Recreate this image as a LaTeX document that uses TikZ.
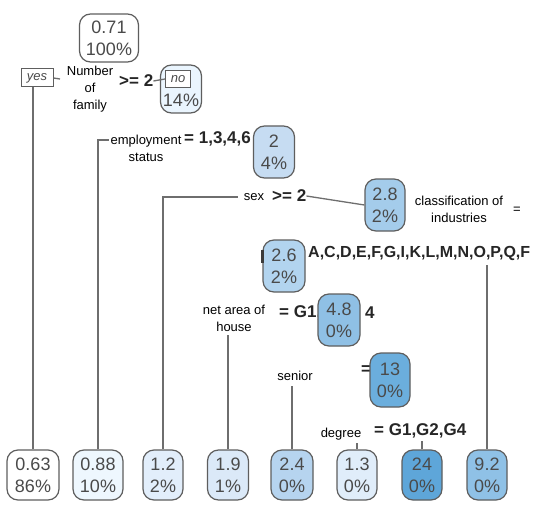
\documentclass[tikz,border=0pt]{standalone}
\usepackage{fontspec}
\setmainfont{Liberation Sans}
\definecolor{boxgray}{HTML}{5E5E5E}
\definecolor{numgray}{HTML}{4A4A4A}
\definecolor{edgegray}{HTML}{6E6E6E}
\definecolor{bold}{HTML}{262626}
\definecolor{fA}{HTML}{FFFFFF}
\definecolor{fB}{HTML}{EEF7FE}
\definecolor{fC}{HTML}{E2EEFB}
\definecolor{fD}{HTML}{DBE9F8}
\definecolor{fE}{HTML}{B6D4EF}
\definecolor{fF}{HTML}{E0EDFA}
\definecolor{fG}{HTML}{5EA6D9}
\definecolor{fH}{HTML}{8FC1E6}
\definecolor{fI}{HTML}{EAF5FE}
\definecolor{fJ}{HTML}{C6DCF2}
\definecolor{fK}{HTML}{A4CCEB}
\definecolor{fL}{HTML}{B2D4EF}
\definecolor{fM}{HTML}{8FC0E5}
\definecolor{fN}{HTML}{6BAEDD}
\begin{document}
\begin{tikzpicture}[x=1pt,y=-1pt,
 box/.style={draw=boxgray, line width=1.2pt, rounded corners=11pt, inner sep=0pt, align=center, text=numgray, font=\fontsize{18}{22}\selectfont},
 tag/.style={draw=boxgray, line width=1pt, fill=white, inner sep=0pt, text=numgray, font=\fontsize{13}{15}\itshape\selectfont},
 lab/.style={inner sep=0pt, align=center, font=\fontsize{13}{17}\selectfont},
 blab/.style={inner sep=0pt, font=\fontsize{17}{20}\bfseries\selectfont, text=bold},
 edge/.style={draw=edgegray, line width=1.3pt}]
\useasboundingbox[fill=white] (0,0) rectangle (540,505);

% leaves
\node[box, fill=fA, minimum width=52, minimum height=50] (l1) at (33,475) {0.63\\86\%};
\node[box, fill=fB, minimum width=50, minimum height=50] (l2) at (98,475) {0.88\\10\%};
\node[box, fill=fC, minimum width=40, minimum height=50] (l3) at (163,475) {1.2\\2\%};
\node[box, fill=fD, minimum width=41, minimum height=50] (l4) at (228,475) {1.9\\1\%};
\node[box, fill=fE, minimum width=42, minimum height=50] (l5) at (292,475) {2.4\\0\%};
\node[box, fill=fF, minimum width=40, minimum height=50] (l6) at (357,475) {1.3\\0\%};
\node[box, fill=fG, minimum width=40, minimum height=50] (l7) at (422,475) {24\\0\%};
\node[box, fill=fH, minimum width=40, minimum height=50] (l8) at (487,475) {9.2\\0\%};

% root
\node[box, fill=fA, minimum width=59, minimum height=48] (root) at (109,38) {0.71\\100\%};

% first split
\node[tag, minimum width=32, minimum height=18] (yes) at (37,78) {yes};
\coordinate (y1) at (60,79);
\node[lab] (nfam) at (90,89) {Number\\of\\family};
\node[blab, anchor=west] (ge1) at (119,81) {>= 2};
\node[box, fill=fI, minimum width=41, minimum height=48] (n2) at (181,89) {2\\14\%};
\node[tag, minimum width=25, minimum height=17] (no) at (178,79) {no};
\draw[edge] (l1.north) -- (l1.north |- yes.south);
\draw[edge] (yes.east) -- (y1);
\draw[edge] (ge1.east) -- (no.west);

% employment status
\coordinate (e1) at (109,140);
\node[lab] (emp) at (146,148) {employment\\status};
\node[blab, anchor=west] (eq1) at (184,139) {= 1,3,4,6};
\node[box, fill=fJ, minimum width=41, minimum height=52] (n4) at (274,152) {2\\4\%};
\draw[edge] (l2.north) |- (e1);

% sex
\coordinate (s1) at (238,197);
\node[lab] (sex) at (254,197) {sex};
\node[blab, anchor=west] (ge2) at (272,196) {>= 2};
\node[box, fill=fK, minimum width=40, minimum height=52] (n28) at (385,205) {2.8\\2\%};
\draw[edge] (l3.north) |- (s1);
\draw[edge] (ge2.east) -- (n28.west);

% classification of industries
\node[lab] (cls) at (459,209) {classification of\\industries};
\node[lab] (eq2) at (517,210) {=};

% 2.6 node and industries list
\node[box, fill=fL, minimum width=42, minimum height=52] (n26) at (284,266) {2.6\\2\%};
\fill[numgray!80!black] (261,250) rectangle (264,263);
\node[blab, anchor=west, font=\fontsize{16}{19}\bfseries\selectfont] (ind) at (308,253) {A,C,D,E,F,G,I,K,L,M,N,O,P,Q,F};
\coordinate (a1) at (487,265);
\draw[edge] (l8.north) -- (a1);

% net area of house
\node[lab] (nah) at (234,318) {net area of\\house};
\coordinate (h1) at (228,335);
\node[blab, anchor=west] (eq3) at (279,313) {= G1,};
\node[box, fill=fM, minimum width=42, minimum height=52] (n48) at (339,320) {4.8\\0\%};
\node[blab, anchor=west] (four) at (365,313) {4};
\draw[edge] (l4.north) -- (h1);

% senior
\node[lab] (sen) at (295,376) {senior};
\coordinate (sn1) at (292,386);
\node[blab] (eq4) at (366,370) {=};
\node[box, fill=fN, minimum width=40, minimum height=54] (n13) at (390,380) {13\\0\%};
\draw[edge] (l5.north) -- (sn1);

% degree
\node[lab] (deg) at (341,434) {degree};
\coordinate (d1) at (357,443);
\node[blab, anchor=west] (eq5) at (374,431) {= G1,G2,G4};
\coordinate (d2) at (422,441);
\draw[edge] (l6.north) -- (d1);
\draw[edge] (l7.north) -- (d2);
\end{tikzpicture}
\end{document}
